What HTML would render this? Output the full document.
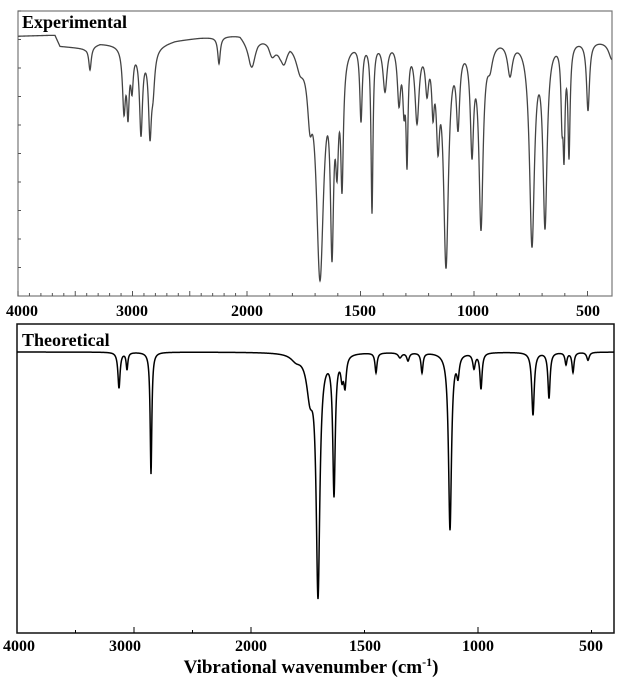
<!DOCTYPE html>
<html><head><meta charset="utf-8"><style>
html,body{margin:0;padding:0;background:#fff;}
svg{display:block;}
text{font-family:"Liberation Serif",serif;font-weight:bold;}
</style></head><body>
<svg id="s" width="622" height="680" viewBox="0 0 622 680" xmlns="http://www.w3.org/2000/svg">
<rect x="18" y="11" width="594" height="285" fill="none" stroke="#777" stroke-width="1.2"/>
<rect x="17" y="324" width="597" height="309" fill="none" stroke="#111" stroke-width="1.5"/>
<g id="ticks" stroke="#555" stroke-width="1"></g>
<path id="top" fill="none" stroke="#444" stroke-width="1.3"/>
<path id="bot" fill="none" stroke="#000" stroke-width="1.5"/>
<text x="22" y="28" font-size="18" fill="#000">Experimental</text>
<text x="22" y="346" font-size="18" fill="#000">Theoretical</text>
<g font-size="16" text-anchor="middle" fill="#000">
<text x="22" y="316">4000</text><text x="132" y="316">3000</text><text x="247" y="316">2000</text>
<text x="360" y="316">1500</text><text x="473" y="316">1000</text><text x="588" y="316">500</text>
<text x="19" y="651">4000</text><text x="125" y="651">3000</text><text x="251" y="651">2000</text>
<text x="365" y="651">1500</text><text x="478" y="651">1000</text><text x="591" y="651">500</text>
</g>
<text x="311" y="673" font-size="19" text-anchor="middle">Vibrational wavenumber (cm<tspan dy="-7" font-size="12">-1</tspan><tspan dy="7">)</tspan></text>
</svg>
<script>
function lor(x,c,w){return w*w/((x-c)*(x-c)+w*w);}
function interp(pts,x){for(var i=0;i<pts.length-1;i++){if(x<=pts[i+1][0]){var a=pts[i],b=pts[i+1];return a[1]+(b[1]-a[1])*(x-a[0])/(b[0]-a[0]);}}return pts[pts.length-1][1];}
var tb=[[18,36],[50,35],[55,35],[60,46],[85,48],[100,43],[120,44],[150,47],[175,40],[200,37],[215,36],[240,33],[250,42],[258,36],[268,35],[280,42],[290,34],[300,40],[340,40],[360,36],[480,38],[500,36],[540,36],[612,40]];
var tp=[[90,23,1.5],[124,64,1.8],[128,64,1.4],[132,38,1.5],[141,86,1.8],[150,84,1.8],[153,35,2],[219,27,1.5],[252,24,4],[272,14,4],[284,18,4],[300,18,5],[310,60,3],
[320,240,4.5],[332,215,2],[337,110,1.8],[342,140,1.6],[361,80,1.5],[372,175,1.2],[385,50,2.5],[399,60,2],[404,60,1.5],[407,120,1.2],[417,80,2.5],[427,45,2],[433,60,1.5],[438,95,2],[446,230,3],[458,80,2],[472,110,2],[481,190,2.5],[490,20,3],[510,34,3],[532,210,3],[545,190,2.5],[562,70,1.2],[564,110,1.2],[569,115,1.3],[588,70,1.8],[612,18,4]];
var bp=[[119,36,1.3],[127,17,1],[151,122,1],[296,6,6],[310,40,4],[318,246,2.2],[334,142,1.5],[342,20,1.5],[345,30,1.5],[376,20,1.2],[400,5,2],[408,8,1.5],[422,20,1.2],[450,178,1.8],[458,20,1.5],[474,15,1.5],[481,36,1.3],[533,63,1.5],[549,46,1.3],[566,12,1.2],[573,20,1.2],[588,8,1.5]];
function build(pk,base,x0,x1,S){var d="";for(var x=x0;x<=x1;x+=0.25){var b=base(x),T=1;for(var i=0;i<pk.length;i++){T*=1-(pk[i][1]/S)*lor(x,pk[i][0],pk[i][2]);}var y=b+S*(1-T);d+=(d?"L":"M")+x.toFixed(2)+" "+y.toFixed(2);}return d;}
document.getElementById("top").setAttribute("d",build(tp,function(x){return interp(tb,x);},18,612,255));
document.getElementById("bot").setAttribute("d",build(bp,function(x){return 352;},17,614,275));
var g=document.getElementById("ticks"),h="";
function xt(w){return w>=2000?18+(4000-w)*0.1145:247+(2000-w)*0.227;}
for(var w=4000;w>=500;w-=100){var x=xt(w);var L=(w%500==0)?5:3;h+='<line x1="'+x+'" y1="296" x2="'+x+'" y2="'+(296-L)+'"/>';}
for(var y=11;y<296;y+=28.5){h+='<line x1="18" y1="'+y+'" x2="21" y2="'+y+'"/>';}
function xb(w){return w>=2000?17+(4000-w)*0.117:251+(2000-w)*0.227;}
[3500,3000,2500,2000,1500,1000,500].forEach(function(w){var x=xb(w);h+='<line x1="'+x+'" y1="633" x2="'+x+'" y2="'+(w%1000==0?627:630)+'" stroke="#000"/>';});
g.innerHTML=h;
</script>
</body></html>
